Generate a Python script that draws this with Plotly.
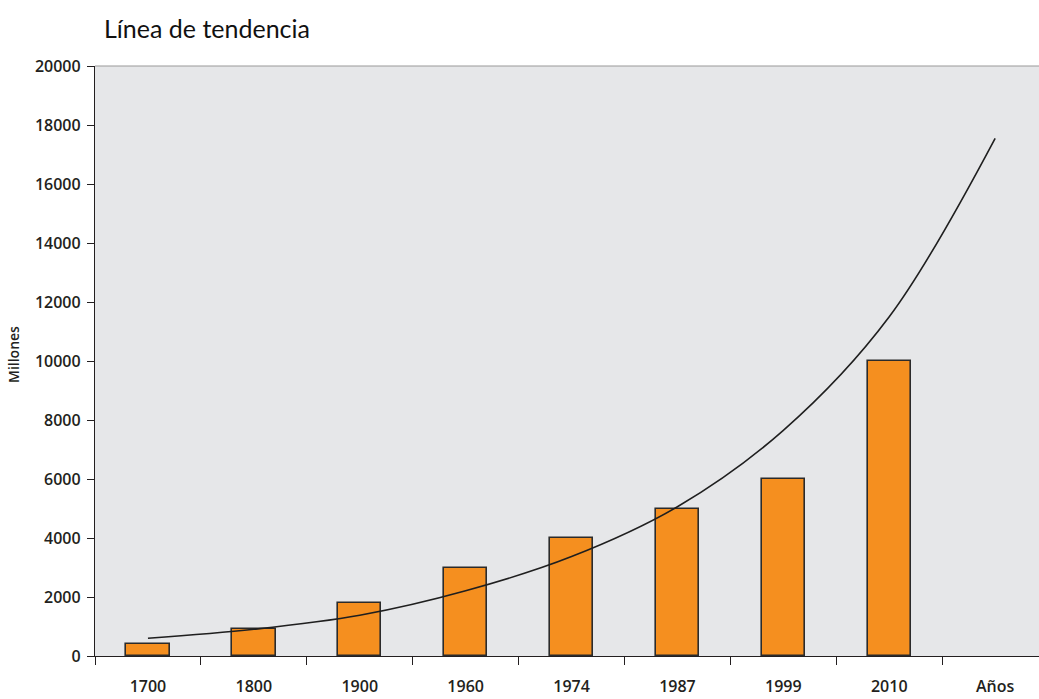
import plotly.graph_objects as go

# Categories along the x axis (last one only carries the trend line)
categorias = ["1700", "1800", "1900", "1960", "1974", "1987", "1999", "2010", "Años"]

# Population in millions for each year with a bar
anios_barras = ["1700", "1800", "1900", "1960", "1974", "1987", "1999", "2010"]
poblacion = [400, 900, 1800, 3000, 4000, 5000, 6000, 10000]

# Trend line values at each category centre
tendencia = [600, 905, 1380, 2210, 3370, 5060, 7650, 11500, 17550]

y_ticks = [0, 2000, 4000, 6000, 8000, 10000, 12000, 14000, 16000, 18000, 20000]

W, H = 1039, 699
ML, MR, MT, MB = 95, 0, 66, 43
plot_w = W - ML - MR
cat_px = 105.9
x_max = -0.5 + plot_w / cat_px

tick_font = dict(family="Open Sans", size=16, color="#231f20", weight=600)

fig = go.Figure()

fig.add_trace(go.Bar(
    x=anios_barras,
    y=poblacion,
    width=0.41,
    marker=dict(color="#F58F1F", line=dict(color="#2b2b2b", width=1.6)),
    showlegend=False,
    hoverinfo="x+y",
))

fig.add_trace(go.Scatter(
    x=categorias,
    y=tendencia,
    mode="lines",
    line=dict(color="#1f1f1f", width=1.6, shape="spline", smoothing=1.0),
    showlegend=False,
))

fig.update_layout(
    width=W,
    height=H,
    margin=dict(l=ML, r=MR, t=MT, b=MB),
    paper_bgcolor="white",
    plot_bgcolor="#E6E7E9",
    bargap=0,
    title=dict(
        text="Línea de tendencia",
        x=104 / W,
        xanchor="left",
        y=1 - 29 / H,
        yanchor="middle",
        font=dict(family="Lato", size=25, color="#111111"),
    ),
    font=dict(family="Open Sans", color="#231f20"),
)

fig.update_xaxes(
    type="category",
    categoryorder="array",
    categoryarray=categorias,
    range=[-0.5, x_max],
    tickson="boundaries",
    ticks="outside",
    ticklen=8,
    tickwidth=1.3,
    tickcolor="#231f20",
    showline=True,
    linecolor="#231f20",
    linewidth=1.3,
    showgrid=False,
    zeroline=False,
    tickfont=tick_font,
    ticklabelstandoff=16,
)

fig.update_yaxes(
    range=[0, 20000],
    tickvals=y_ticks,
    ticktext=[str(v) for v in y_ticks],
    ticks="outside",
    ticklen=7,
    tickwidth=1.3,
    tickcolor="#231f20",
    showline=True,
    linecolor="#231f20",
    linewidth=1.3,
    showgrid=False,
    zeroline=False,
    tickfont=tick_font,
    ticklabelstandoff=3,
)

# Thin grey border along the top of the plotting area
fig.add_shape(
    type="line", xref="paper", yref="paper",
    x0=0, x1=1, y0=1, y1=1,
    line=dict(color="#9a9a9a", width=1.2),
)

# Vertical axis caption
fig.add_annotation(
    text="Millones",
    xref="paper", yref="paper",
    x=(13 - ML) / plot_w, y=(656 - 355) / 590,
    xanchor="center", yanchor="middle",
    textangle=-90,
    showarrow=False,
    font=dict(family="Open Sans", size=14, color="#231f20", weight=600),
)

fig.write_html("out.html")
